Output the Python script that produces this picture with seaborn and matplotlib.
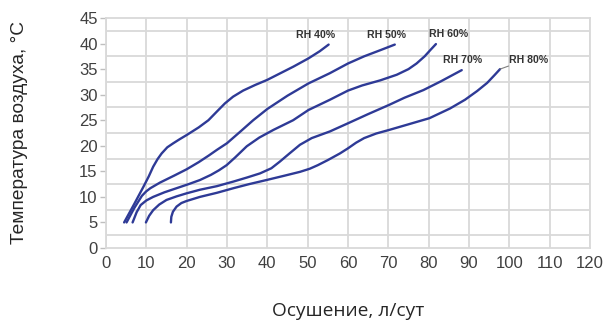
import matplotlib
matplotlib.use("Agg")
import matplotlib.pyplot as plt
import numpy as np
import pandas as pd
import seaborn as sns

# Dehumidifier performance curves: capacity (l/day) vs air temperature (°C)
rh40_x = [4.5, 7.0, 9.3, 10.6, 11.7, 12.8, 13.8, 15.2, 16.7, 18.3, 20.0, 23.0, 25.4, 27.5, 29.5, 31.5, 34.0, 37.0, 40.0, 43.0, 46.5, 50.2, 53.0, 55.2]
rh40_y = [5.0, 8.6, 12.0, 14.0, 15.9, 17.4, 18.5, 19.7, 20.5, 21.3, 22.1, 23.6, 25.0, 26.7, 28.3, 29.6, 30.8, 31.9, 32.9, 34.1, 35.5, 37.1, 38.5, 39.8]

rh50_x = [5.1, 7.0, 8.9, 10.0, 11.0, 13.4, 17.0, 20.0, 23.0, 25.5, 27.5, 30.0, 33.2, 36.5, 40.0, 45.0, 50.2, 55.5, 60.0, 64.0, 68.0, 71.6]
rh50_y = [5.0, 7.8, 10.2, 11.1, 11.7, 12.8, 14.2, 15.4, 16.8, 18.1, 19.2, 20.5, 22.7, 25.0, 27.2, 29.8, 32.2, 34.2, 36.1, 37.5, 38.7, 39.8]

rh60_x = [6.6, 7.6, 8.6, 10.0, 11.7, 14.5, 17.5, 20.5, 23.3, 26.0, 28.0, 29.9, 32.0, 34.9, 38.0, 41.5, 46.4, 50.2, 55.5, 60.0, 63.5, 68.0, 72.1, 75.0, 77.0, 79.0, 80.5, 81.8]
rh60_y = [5.0, 7.0, 8.4, 9.3, 10.0, 10.9, 11.7, 12.5, 13.3, 14.3, 15.2, 16.2, 17.7, 19.9, 21.6, 23.1, 25.0, 27.0, 29.0, 30.8, 31.8, 32.8, 33.9, 35.0, 36.1, 37.5, 38.8, 39.9]

rh70_x = [9.9, 10.7, 11.7, 13.2, 15.0, 17.5, 20.0, 23.3, 27.5, 31.6, 35.0, 38.2, 41.0, 43.1, 45.5, 48.1, 51.0, 55.5, 60.0, 65.0, 70.2, 74.0, 78.7, 83.0, 88.2]
rh70_y = [5.0, 6.3, 7.4, 8.5, 9.4, 10.1, 10.7, 11.4, 12.1, 13.0, 13.8, 14.6, 15.6, 16.9, 18.5, 20.2, 21.5, 22.8, 24.4, 26.2, 28.0, 29.4, 30.9, 32.6, 34.8]

rh80_x = [16.1, 16.2, 16.6, 17.5, 18.7, 20.0, 23.3, 27.5, 31.6, 35.5, 39.8, 44.0, 48.1, 50.5, 52.5, 55.0, 58.0, 60.0, 62.0, 64.0, 67.0, 70.2, 75.0, 80.2, 85.3, 89.0, 92.0, 94.5, 96.3, 97.7]
rh80_y = [5.0, 6.1, 7.1, 8.1, 8.8, 9.2, 10.0, 10.8, 11.7, 12.5, 13.3, 14.1, 14.9, 15.5, 16.2, 17.2, 18.5, 19.5, 20.6, 21.5, 22.4, 23.1, 24.2, 25.4, 27.3, 29.0, 30.7, 32.3, 33.8, 35.0]

series_names = ["RH 40%", "RH 50%", "RH 60%", "RH 70%", "RH 80%"]
series_x = [rh40_x, rh50_x, rh60_x, rh70_x, rh80_x]
series_y = [rh40_y, rh50_y, rh60_y, rh70_y, rh80_y]

# label anchor points (left edge, vertical centre) in data units
label_x = [47.1, 64.6, 80.1, 83.6, 99.8]
label_y = [41.7, 41.7, 41.9, 36.8, 36.8]

x_ticks = list(range(0, 121, 10))
y_ticks = list(range(0, 46, 5))

frames = []
for name, xs, ys in zip(series_names, series_x, series_y):
    frames.append(pd.DataFrame({"x": xs, "y": ys, "rh": name}))
df = pd.concat(frames, ignore_index=True)

sns.set_style("white")
plt.rcParams["font.family"] = ["Liberation Sans", "DejaVu Sans"]

line_color = "#2E3A96"
grid_color = "#D9D9D9"

fig = plt.figure(figsize=(6.08, 3.2), dpi=100)
ax = fig.add_axes([0.1743, 0.225, 0.7961, 0.71875])

sns.lineplot(data=df, x="x", y="y", hue="rh", palette=[line_color] * 5,
             sort=False, estimator=None, legend=False, linewidth=1.7, ax=ax)
for line in ax.get_lines():
    line.set_solid_joinstyle("round")
    line.set_solid_capstyle("round")

# leader from the RH 80% curve to its label
ax.plot([rh80_x[-1], 99.8], [rh80_y[-1], 35.6], color="#7F7F7F", lw=0.8)

for name, lx, ly in zip(series_names, label_x, label_y):
    ax.text(lx, ly, name, fontsize=7.6, fontweight="bold", color="#333333",
            ha="left", va="center")

ax.set_xlim(0, 120)
ax.set_ylim(0, 45)
ax.set_xticks(x_ticks)
ax.set_yticks(y_ticks)
ax.set_yticks(np.arange(2.5, 45, 5), minor=True)

ax.grid(False)
ax.grid(True, which="major", axis="x", color=grid_color, lw=1.3)
ax.grid(True, which="minor", axis="y", color=grid_color, lw=1.3)
ax.set_axisbelow(True)

for side in ["top", "right", "left", "bottom"]:
    ax.spines[side].set_color(grid_color)
    ax.spines[side].set_linewidth(1.3)

ax.tick_params(axis="y", which="major", length=4, width=1, color="#BFBFBF",
               labelsize=12, labelcolor="#404040", pad=2, left=True)
ax.tick_params(axis="y", which="minor", length=0)
ax.tick_params(axis="x", which="major", length=0, labelsize=12,
               labelcolor="#404040", pad=6)

ax.set_xlabel("Осушение, л/сут", fontsize=13.8, color="#262626",
              family=["Open Sans", "DejaVu Sans"], labelpad=22)
ax.set_ylabel("Температура воздуха, °C", fontsize=13.8, color="#262626", labelpad=37)

fig.savefig("out.png", dpi=100)
